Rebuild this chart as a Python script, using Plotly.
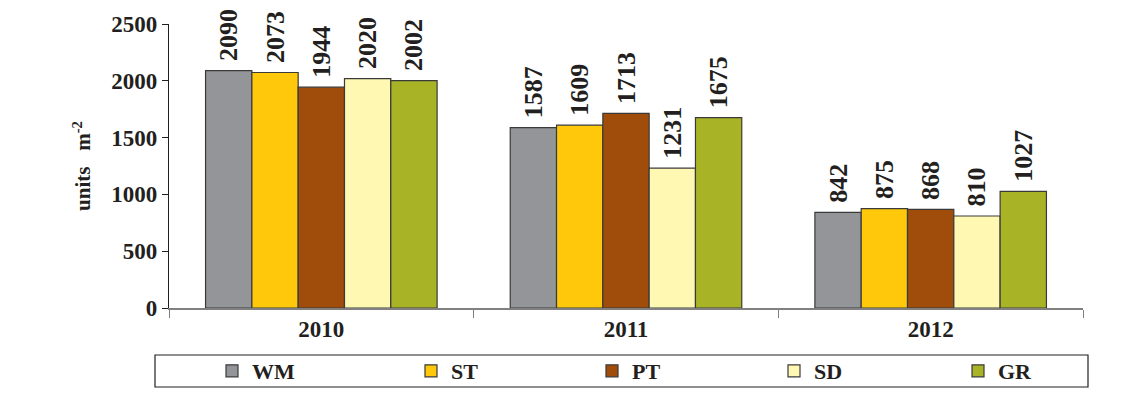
import plotly.graph_objects as go

years = ["2010", "2011", "2012"]
series_names = ["WM", "ST", "PT", "SD", "GR"]
values = {
    "WM": [2090, 1587, 842],
    "ST": [2073, 1609, 875],
    "PT": [1944, 1713, 868],
    "SD": [2020, 1231, 810],
    "GR": [2002, 1675, 1027],
}
colors = {
    "WM": "#939598",
    "ST": "#FFC80B",
    "PT": "#A04C0A",
    "SD": "#FFF8B3",
    "GR": "#A8B425",
}
# legend symbol centres (pixels) for each series
legend_centers = {"WM": 230, "ST": 429, "PT": 610, "SD": 792, "GR": 976}

FONT = "Liberation Serif"

W, H = 1140, 418
L, R, T, B = 169, 57, 24, 110
pw = W - L - R
ph = H - T - B

def px_x(x):
    return (x - L) / pw

def px_y(y):
    return (H - B - y) / ph

fig = go.Figure()
legend_layouts = {}
for i, name in enumerate(series_names):
    lg = "legend" if i == 0 else f"legend{i + 1}"
    fig.add_trace(go.Bar(
        name=name,
        x=years,
        y=values[name],
        legend=lg,
        marker=dict(color=colors[name], line=dict(color="#3a3a3a", width=1.2)),
        text=[str(v) for v in values[name]],
        texttemplate="<span style='font-size:26px'> </span>%{text}",
        textposition="outside",
        textangle=-90,
        constraintext="none",
        cliponaxis=False,
        textfont=dict(family=FONT, size=26, color="#231f20", weight="bold"),
    ))
    legend_layouts[lg] = dict(
        orientation="h",
        x=px_x(legend_centers[name] - 18), xanchor="left",
        y=px_y(371), yanchor="middle",
        font=dict(family=FONT, size=22, color="#231f20", weight="bold"),
        bgcolor="rgba(0,0,0,0)",
        borderwidth=0,
    )

fig.update_layout(
    width=W, height=H,
    margin=dict(l=L, r=R, t=T, b=B),
    paper_bgcolor="white",
    plot_bgcolor="white",
    barmode="group",
    bargap=0.24,
    bargroupgap=0,
    font=dict(family=FONT, color="#231f20"),
    showlegend=True,
    xaxis=dict(
        showline=True, linecolor="#808080", linewidth=1.5,
        ticks="outside", tickson="boundaries", ticklen=8, tickcolor="#808080",
        tickfont=dict(family=FONT, size=23, color="#231f20", weight="bold"),
        showgrid=False,
    ),
    yaxis=dict(
        range=[0, 2500], dtick=500,
        showline=True, linecolor="#231f20", linewidth=1.2,
        ticks="outside", ticklen=6, tickcolor="#231f20",
        tickfont=dict(family=FONT, size=23, color="#231f20", weight="bold"),
        showgrid=False, zeroline=False,
        title=dict(text="units&nbsp;&nbsp; m<sup>-2</sup>", standoff=14,
                   font=dict(family=FONT, size=21, color="#231f20", weight="bold")),
    ),
    shapes=[dict(
        type="rect", xref="paper", yref="paper",
        x0=px_x(155), x1=px_x(1088), y0=px_y(387), y1=px_y(355),
        line=dict(color="#231f20", width=1.2), fillcolor="rgba(0,0,0,0)",
    )],
    **legend_layouts,
)

fig.write_html(
    "out.html",
    config={"displayModeBar": False},
    post_script="document.body.style.margin='0';document.body.style.padding='0';",
)
